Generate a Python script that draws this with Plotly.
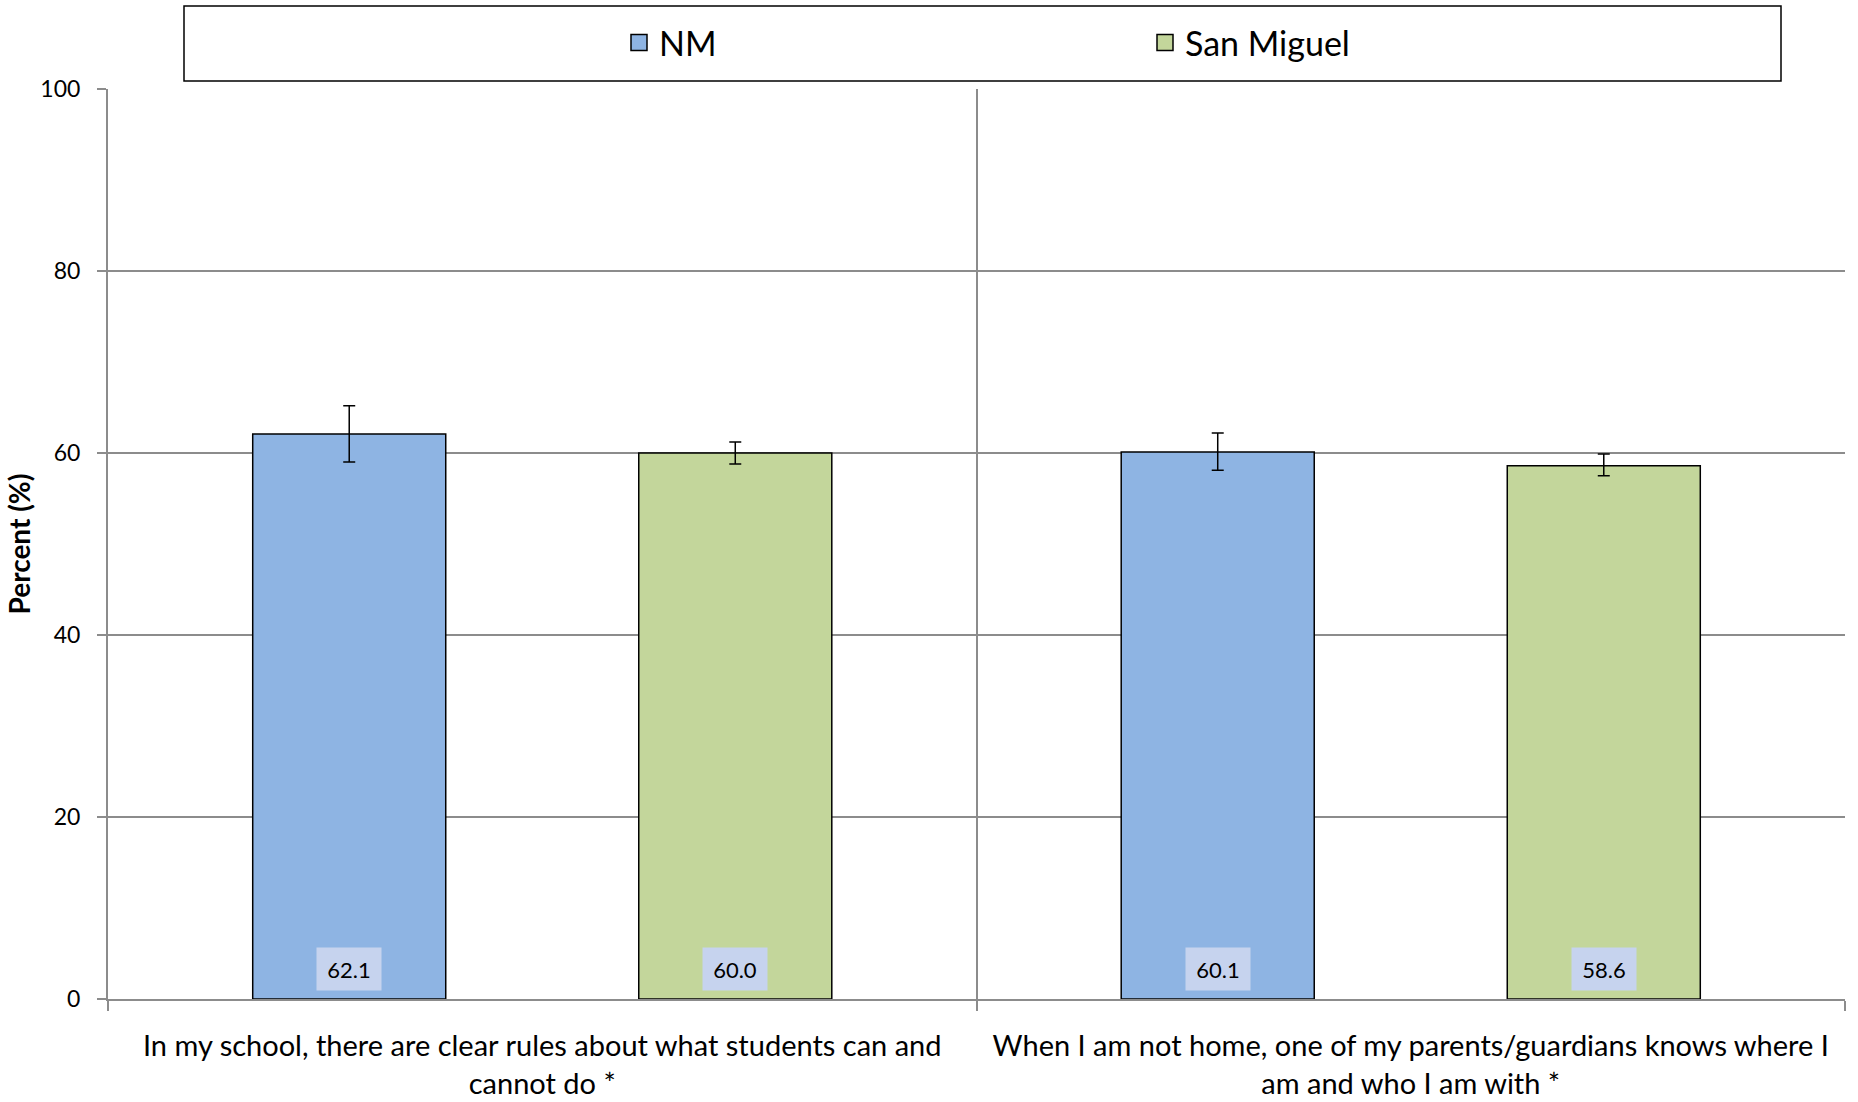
import plotly.graph_objects as go

categories = [
    "In my school, there are clear rules about what students can and<br>cannot do *",
    "When I am not home, one of my parents/guardians knows where I<br>am and who I am with *",
]
series_names = ["NM", "San Miguel"]
nm_values = [62.1, 60.1]
nm_err_plus = [3.1, 2.1]
nm_err_minus = [3.1, 2.0]
sm_values = [60.0, 58.6]
sm_err_plus = [1.2, 1.3]
sm_err_minus = [1.2, 1.1]
y_ticks = [0, 20, 40, 60, 80, 100]

colors = ["#8EB4E3", "#C3D69B"]
FONT = "Lato"

fig = go.Figure()
for name, vals, ep, em, col in [
    (series_names[0], nm_values, nm_err_plus, nm_err_minus, colors[0]),
    (series_names[1], sm_values, sm_err_plus, sm_err_minus, colors[1]),
]:
    fig.add_trace(go.Bar(
        name=name, x=categories, y=vals, legendgroup=name, showlegend=False,
        marker=dict(color=col, line=dict(color="black", width=1.5)),
        error_y=dict(type="data", symmetric=False, array=ep, arrayminus=em,
                     color="black", thickness=1.5, width=6),
    ))
# legend entries (larger square swatches)
for name, col in zip(series_names, colors):
    fig.add_trace(go.Scatter(
        name=name, x=[None], y=[None], mode="markers", legendgroup=name,
        marker=dict(symbol="square", size=16, color=col, line=dict(color="black", width=1.5)),
        showlegend=True, hoverinfo="skip",
    ))

bargap = 0.111
offset = (1 - bargap) / 4
annotations = []
for si, vals in enumerate([nm_values, sm_values]):
    for ci, v in enumerate(vals):
        annotations.append(dict(
            x=ci + (-offset if si == 0 else offset), y=0, xref="x", yref="y",
            text=f"{v:.1f}", showarrow=False, yanchor="bottom", yshift=8,
            width=64, height=42, bgcolor="#c6d3ee", borderpad=0,
            font=dict(family=FONT, size=22, color="black"),
        ))

fig.update_layout(
    width=1858, height=1102,
    margin=dict(l=108, r=13, t=89, b=103, autoexpand=False),
    plot_bgcolor="white", paper_bgcolor="white",
    barmode="group", bargap=bargap, bargroupgap=0.5,
    font=dict(family=FONT, color="black"),
    showlegend=True,
    legend=dict(orientation="h", xref="container", yref="container",
                x=619 / 1858, xanchor="left", y=1 - 43 / 1102, yanchor="middle",
                font=dict(family=FONT, size=34), entrywidth=481, entrywidthmode="pixels",
                bgcolor="rgba(0,0,0,0)", itemclick=False, itemdoubleclick=False),
    annotations=annotations,
    shapes=[dict(type="rect", xref="paper", yref="paper",
                 x0=(184 - 108) / 1737, x1=(1781 - 108) / 1737,
                 y0=1 + (89 - 81) / 910, y1=1 + (89 - 6) / 910,
                 line=dict(color="black", width=1.5), fillcolor="rgba(0,0,0,0)",
                 layer="below")],
)
fig.update_xaxes(
    tickson="boundaries", showgrid=True, gridcolor="#8c8c8c", gridwidth=1.5,
    ticks="outside", ticklen=10, tickcolor="#8c8c8c", tickwidth=1.5,
    showline=True, linecolor="#8c8c8c", linewidth=2, tickangle=0,
    tickfont=dict(family=FONT, size=29), ticklabelstandoff=20, automargin=False,
)
fig.update_yaxes(
    range=[0, 100], tickvals=y_ticks, showgrid=True, gridcolor="#8c8c8c", gridwidth=1.5,
    ticks="outside", ticklen=9, tickcolor="#8c8c8c", tickwidth=1.5,
    showline=True, linecolor="#8c8c8c", linewidth=2, zeroline=False,
    tickfont=dict(family=FONT, size=23), ticklabelstandoff=12, automargin=True,
    title=dict(text="<b>Percent (%)</b>", font=dict(family=FONT, size=28), standoff=2),
)
fig.write_html("out.html", config={"displayModeBar": False},
               post_script="document.body.style.margin='0';")
